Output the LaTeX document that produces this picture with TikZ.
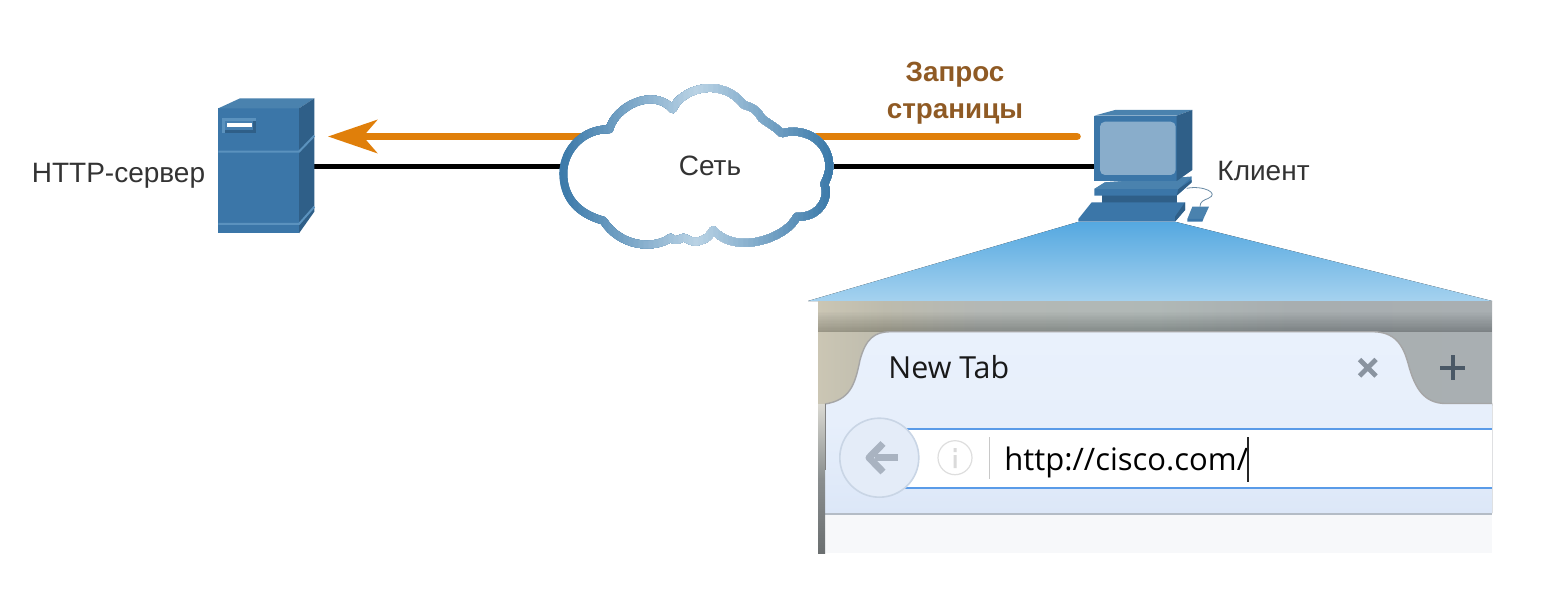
\documentclass[tikz,border=0pt]{standalone}
\usepackage{fontspec}
\setmainfont{Liberation Sans}
\newfontfamily\uifont{Open Sans}
\usetikzlibrary{arrows.meta}
\definecolor{txt}{HTML}{333333}
\definecolor{req}{HTML}{E07F0A}
\definecolor{reqtxt}{HTML}{8F5A24}
\definecolor{devfront}{HTML}{3B76A8}
\definecolor{devside}{HTML}{2F5F88}
\definecolor{devtop}{HTML}{4A82AE}
\definecolor{devline}{HTML}{5B92BE}
\definecolor{cloudlight}{HTML}{BAD3E5}
\definecolor{clouddark}{HTML}{3C7AAA}
\definecolor{urlblue}{HTML}{5A9BE8}
\definecolor{coneA}{HTML}{55A8E0}
\definecolor{coneB}{HTML}{A5D2EF}
\definecolor{bandA}{HTML}{CBC6B4}
\definecolor{bandB}{HTML}{BDBBAD}
\definecolor{bandC}{HTML}{B4B8B5}
\definecolor{bandD}{HTML}{B0B8B6}
\definecolor{bandE}{HTML}{A8AEB0}
\definecolor{bandF}{HTML}{A9AFB2}
\definecolor{tabA}{HTML}{E9F1FC}
\definecolor{tabM}{HTML}{E7EFFB}
\definecolor{tabB}{HTML}{DCE7F8}
\definecolor{pagebg}{HTML}{F7F8FA}
\definecolor{pageline}{HTML}{B4BCC6}
\definecolor{edgeA}{HTML}{DAD9D2}
\definecolor{edgeB}{HTML}{8A8E8F}
\definecolor{edgeC}{HTML}{6B6F70}
\definecolor{backfill}{HTML}{E4ECF8}
\definecolor{backedge}{HTML}{C9D5E5}
\definecolor{backarrow}{HTML}{A9B3C1}
\definecolor{infoedge}{HTML}{DEDEDE}
\definecolor{infotxt}{HTML}{DADADA}
\definecolor{sepcol}{HTML}{C8C8C8}
\definecolor{xcol}{HTML}{8A94A0}
\definecolor{pluscol}{HTML}{4A5866}
\pgfdeclarehorizontalshading{bandshade}{100bp}{
  color(0bp)=(bandA); color(25bp)=(bandA); color(30bp)=(bandB); color(37bp)=(bandC);
  color(50bp)=(bandD); color(60bp)=(bandE); color(75bp)=(bandF); color(100bp)=(bandF)}
\tikzset{
  label text/.style={text=txt,font=\fontsize{14}{16}\selectfont,inner sep=0pt},
  req text/.style={text=reqtxt,font=\bfseries\fontsize{13.9}{16}\selectfont,inner sep=0pt},
  anchor box/.style={inner sep=0pt,minimum width=#1,minimum height=10pt},
  link/.style={black,line width=2.5pt},
  request/.style={req,line width=3.8pt,line cap=round,-{Stealth[length=24.5pt,width=16.5pt,inset=7pt]}},
  ui text/.style={inner sep=0pt,anchor=base west},
}
\newcommand{\cloudoutline}{(208,178)
  .. controls (225,110) and (340,50) .. (398,118)
  .. controls (420,60) and (540,15) .. (612,105)
  .. controls (640,112) and (655,125) .. (665,145)
  .. controls (685,160) and (705,170) .. (725,190)
  .. controls (790,170) and (868,210) .. (868,290)
  .. controls (868,310) and (860,325) .. (853,342)
  .. controls (870,380) and (840,445) .. (770,440)
  .. controls (745,500) and (590,560) .. (520,480)
  .. controls (510,495) and (500,510) .. (470,515)
  .. controls (455,518) and (440,505) .. (432,503)
  .. controls (420,503) and (410,520) .. (392,503)
  .. controls (340,540) and (240,530) .. (190,452)
  .. controls (110,430) and (70,380) .. (70,310)
  .. controls (70,240) and (130,175) .. (208,178) -- cycle}
\begin{document}
\begin{tikzpicture}[x=0.5pt,y=-0.5pt]
\useasboundingbox[fill=white] (0,0) rectangle (1557,599);
% anchors
\node[anchor box=40pt] (server) at (278,166) {};
\node[anchor box=48pt] (pc) at (1142,166) {};
\coordinate (cloudW) at (562,166);
\coordinate (cloudE) at (830,166);
\coordinate (reqstart) at (1077,136.5);
\coordinate (reqend) at (328,136.5);
% connectors
\draw[link] (server.center) -- (cloudW);
\draw[link] (cloudE) -- (pc.center);
\draw[request] (reqstart) -- (reqend);
% server
\begin{scope}[shift={(200,80)},scale=0.33333]
  \fill[devfront] (55,85) rectangle (297,460);
  \fill[devtop] (55,85) -- (120,55) -- (343,55) -- (297,85) -- cycle;
  \fill[devside] (297,85) -- (343,55) -- (343,395) -- (297,460) -- cycle;
  \draw[devline,line width=1pt] (55,215) -- (297,215) -- (343,167);
  \draw[devline,line width=1pt] (55,432) -- (297,432) -- (343,380);
  \fill[devline] (67,115) rectangle (167,158);
  \fill[devside] (75,123) rectangle (167,158);
  \fill[devfront!70!devline] (75,123) rectangle (160,150);
  \fill[white] (82,130) rectangle (155,141);
\end{scope}
% cloud
\begin{scope}[shift={(540,70)},scale=0.33333]
  \fill[white] \cloudoutline;
  \foreach \i in {0,...,58}{
    \pgfmathsetmacro{\xa}{40+15*\i}
    \pgfmathsetmacro{\pc}{max(0,100-abs(\xa+7-470)/4.0)}
    \begin{scope}
      \clip (\xa,0) rectangle (900,600);
      \draw[cloudlight!\pc!clouddark,line width=3.9pt,line join=round] \cloudoutline;
    \end{scope}
  }
\end{scope}
% PC
\begin{scope}[shift={(1060,95)},scale=0.33333]
  \draw[color=devline!60!gray,line width=0.4pt] (380,280) .. controls (430,270) and (480,295) .. (445,310) .. controls (430,316) and (420,320) .. (420,335);
  \fill[devside] (127,300) rectangle (350,323);
  \fill[devfront] (103,282) -- (135,262) -- (395,245) -- (395,262) -- (350,302) -- (103,302) -- cycle;
  \fill[devside] (355,282) -- (395,255) -- (395,262) -- (350,302) -- cycle;
  \fill[devtop] (103,282) -- (135,262) -- (395,245) -- (355,282) -- cycle;
  \fill[devfront] (55,380) -- (55,372) -- (95,322) -- (375,322) -- (375,345) -- (345,380) -- cycle;
  \fill[devside] (345,365) -- (375,322) -- (375,345) -- (345,380) -- cycle;
  \fill[devtop] (382,372) -- (397,335) -- (447,335) -- (430,372) -- cycle;
  \fill[devfront] (382,372) -- (430,372) -- (427,380) -- (382,380) -- cycle;
  \fill[devfront] (103,62) -- (350,62) -- (350,258) -- (103,258) -- cycle;
  \fill[devtop] (103,62) -- (165,45) -- (397,45) -- (350,62) -- cycle;
  \fill[devside] (350,62) -- (397,45) -- (397,225) -- (350,258) -- cycle;
  \fill[color=devfront!60!white,rounded corners=2.5pt] (120,80) rectangle (347,240);
\end{scope}
% labels
\node[label text] (serverlabel) at (118.5,175.5) {HTTP-сервер};
\node[label text] (cloudlabel) at (710,166) {Сеть};
\node[label text] (pclabel) at (1263.5,171) {Клиент};
\node[req text] (reqa) at (955,75) {Запрос};
\node[req text] (reqb) at (955,114) {страницы};
% cone
\fill[top color=coneA,bottom color=coneB] (1078,222) -- (1176,222) -- (1492,301) -- (808,301) -- cycle;
% browser
\shade[shading=bandshade] (818,301) rectangle (1492,405);
\foreach \i in {0,...,14}{
  \fill[color=black,opacity=0.016] (818,{312+1.35*\i}) rectangle (1492,332);
}
\fill[top color=tabA,bottom color=tabB,middle color=tabM] (825,404) .. controls (850,400) and (855,385) .. (860,360)
  .. controls (866,338) and (875,332) .. (890,331.7) -- (1373,331.7)
  .. controls (1395,332) and (1403,345) .. (1408,363) .. controls (1415,390) and (1425,403) .. (1445,403.5)
  -- (1492,403.5) -- (1492,513) -- (825,513) -- cycle;
\draw[color=gray!70,line width=0.7pt] (825,404) .. controls (850,400) and (855,385) .. (860,360)
  .. controls (866,338) and (875,332) .. (890,331.7) -- (1373,331.7)
  .. controls (1395,332) and (1403,345) .. (1408,363) .. controls (1415,390) and (1425,403) .. (1445,403.5) -- (1492,403.5);
\fill[color=pagebg] (825,514) rectangle (1492,553);
\draw[color=pageline,line width=1pt] (825,513.5) -- (1492,513.5);
\fill[top color=edgeA,bottom color=edgeC,middle color=edgeB] (818,404) rectangle (825,553);
\draw[color=gray,line width=0.5pt] (825,404) -- (825,470);
\fill[white] (885,428.5) rectangle (1492,487.5);
\draw[color=urlblue,line width=1pt] (885,428.5) -- (1492,428.5) (885,487.5) -- (1492,487.5);
\fill[color=backfill,draw=backedge,line width=0.8pt] (879.3,457.7) circle[radius=39.5];
\draw[color=backarrow,line width=3.5pt,line join=miter] (875,457.7) -- (898,457.7);
\draw[color=backarrow,line width=3.5pt,line join=round] (883,443.5) -- (869,457.7) -- (883,472);
\draw[color=infoedge,line width=0.6pt] (955,457.7) circle[radius=17];
\fill[color=infotxt] (953.5,455) rectangle (956.5,468) (953.5,448) rectangle (956.5,452);
\draw[color=sepcol,line width=0.8pt] (989.5,437) -- (989.5,479);
\node[ui text,font=\uifont\fontsize{15.2}{16}\selectfont,text=black!90] (tab) at (888,378) {New Tab};
\node[ui text,font=\uifont\fontsize{15.5}{18}\selectfont,text=black] (url) at (1004,470) {http://cisco.com/};
\draw[color=black!85,line width=0.9pt] (1247.7,437) -- (1247.7,481.5);
\draw[color=xcol,line width=2.4pt] (1359.5,359.5) -- (1376,376) (1376,359.5) -- (1359.5,376);
\draw[color=pluscol,line width=2.2pt] (1440,367.7) -- (1465,367.7) (1452.7,355) -- (1452.7,380);
\end{tikzpicture}
\end{document}
